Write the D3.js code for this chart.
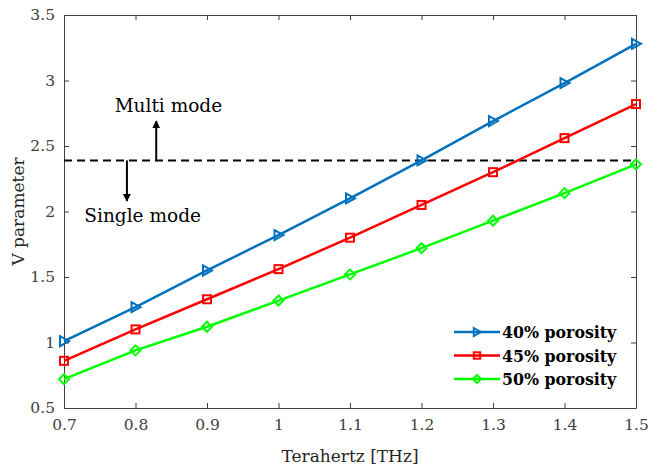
<!DOCTYPE html>
<html lang="en">
<head>
    <meta charset="UTF-8">
    <title>V parameter vs Terahertz</title>
    <script src="https://d3js.org/d3.v7.min.js"></script>
    <style>
        body { margin: 0; background: #fff; }
        text { font-family: "DejaVu Serif", "Liberation Serif", serif; }
        .axis text { font-size: 15.5px; fill: #404040; }
        .axis path, .axis line { stroke: #404040; }
    </style>
</head>
<body>
    <svg width="648" height="468"></svg>
    <script>
        // data
        const freq = [0.7, 0.8, 0.9, 1.0, 1.1, 1.2, 1.3, 1.4, 1.5];
        const por40 = [1.01, 1.27, 1.55, 1.82, 2.10, 2.39, 2.69, 2.98, 3.28];
        const por45 = [0.86, 1.10, 1.33, 1.56, 1.80, 2.05, 2.30, 2.56, 2.82];
        const por50 = [0.72, 0.94, 1.12, 1.32, 1.52, 1.72, 1.93, 2.14, 2.36];
        const seriesNames = ['40% porosity', '45% porosity', '50% porosity'];
        const xTicks = [0.7, 0.8, 0.9, 1, 1.1, 1.2, 1.3, 1.4, 1.5];
        const yTicks = [0.5, 1, 1.5, 2, 2.5, 3, 3.5];
        const cutoff = 2.39;

        const svg = d3.select('svg');
        const m = { left: 64, right: 12, top: 15, bottom: 60 };
        const W = 648, H = 468;

        const x = d3.scaleLinear().domain([0.7, 1.5]).range([m.left, W - m.right]);
        const y = d3.scaleLinear().domain([0.5, 3.5]).range([H - m.bottom, m.top]);

        const series = [
            { name: seriesNames[0], values: por40, color: '#0072BD', marker: 'tri' },
            { name: seriesNames[1], values: por45, color: '#FF0000', marker: 'sq' },
            { name: seriesNames[2], values: por50, color: '#00FF00', marker: 'dia' }
        ];

        // axes (ticks inward, boxed)
        const fmt = d => String(d);
        svg.append('g').attr('class', 'axis')
            .attr('transform', `translate(0,${H - m.bottom})`)
            .call(d3.axisBottom(x).tickValues(xTicks).tickFormat(fmt).tickSizeInner(-5).tickSizeOuter(0).tickPadding(11));
        svg.append('g').attr('class', 'axis')
            .attr('transform', `translate(0,${m.top})`)
            .call(d3.axisTop(x).tickValues(xTicks).tickFormat('').tickSizeInner(-5).tickSizeOuter(0));
        svg.append('g').attr('class', 'axis')
            .attr('transform', `translate(${m.left},0)`)
            .call(d3.axisLeft(y).tickValues(yTicks).tickFormat(fmt).tickSizeInner(-5).tickSizeOuter(0).tickPadding(9));
        svg.append('g').attr('class', 'axis')
            .attr('transform', `translate(${W - m.right},0)`)
            .call(d3.axisRight(y).tickValues(yTicks).tickFormat('').tickSizeInner(-5).tickSizeOuter(0));
        svg.selectAll('.axis .domain').attr('stroke-width', 1);

        // axis titles
        svg.append('text').attr('x', (m.left + W - m.right) / 2).attr('y', 462)
            .attr('text-anchor', 'middle').attr('font-size', 17).attr('fill', '#262626')
            .text('Terahertz [THz]');
        svg.append('text').attr('transform', `translate(24,${(m.top + H - m.bottom) / 2}) rotate(-90)`)
            .attr('text-anchor', 'middle').attr('font-size', 17).attr('fill', '#262626')
            .text('V parameter');

        // cutoff line
        svg.append('line')
            .attr('x1', x(0.7)).attr('x2', x(1.5))
            .attr('y1', y(cutoff)).attr('y2', y(cutoff))
            .attr('stroke', '#000').attr('stroke-width', 2).attr('stroke-dasharray', '8,5');

        // arrows
        svg.append('defs').append('marker')
            .attr('id', 'ah').attr('viewBox', '0 0 10 10').attr('refX', 9).attr('refY', 5)
            .attr('markerWidth', 4).attr('markerHeight', 5).attr('orient', 'auto')
            .append('path').attr('d', 'M0,0 L10,5 L0,10 Z').attr('fill', '#000');
        svg.append('line')
            .attr('x1', x(0.829)).attr('x2', x(0.829))
            .attr('y1', y(cutoff)).attr('y2', y(2.69))
            .attr('stroke', '#000').attr('stroke-width', 2).attr('marker-end', 'url(#ah)');
        svg.append('line')
            .attr('x1', x(0.788)).attr('x2', x(0.788))
            .attr('y1', y(cutoff)).attr('y2', y(2.08))
            .attr('stroke', '#000').attr('stroke-width', 2).attr('marker-end', 'url(#ah)');
        svg.append('text').attr('x', x(0.846)).attr('y', y(2.76))
            .attr('text-anchor', 'middle').attr('font-size', 18.5).attr('fill', '#000')
            .text('Multi mode');
        svg.append('text').attr('x', x(0.81)).attr('y', y(1.92))
            .attr('text-anchor', 'middle').attr('font-size', 18.5).attr('fill', '#000')
            .text('Single mode');

        // markers
        function drawMarker(g, type, color, r) {
            r = r || 5;
            if (type === 'tri') {
                g.append('path').attr('d', `M${-0.8 * r},${-r} L${r},0 L${-0.8 * r},${r} Z`);
            } else if (type === 'sq') {
                g.append('rect').attr('x', -0.8 * r).attr('y', -0.8 * r).attr('width', 1.6 * r).attr('height', 1.6 * r);
            } else {
                g.append('path').attr('d', `M0,${-r} L${r},0 L0,${r} L${-r},0 Z`);
            }
            g.selectAll('*').attr('fill', 'none').attr('stroke', color).attr('stroke-width', 2);
        }

        const line = d3.line().x((d, i) => x(freq[i])).y(d => y(d));
        series.forEach(s => {
            svg.append('path').datum(s.values)
                .attr('d', line).attr('fill', 'none')
                .attr('stroke', s.color).attr('stroke-width', 2.5);
            svg.append('g').selectAll('g').data(s.values).enter().append('g')
                .attr('transform', (d, i) => `translate(${x(freq[i])},${y(d)})`)
                .each(function () { drawMarker(d3.select(this), s.marker, s.color); });
        });

        // legend
        const lg = svg.append('g').attr('transform', 'translate(454,332)');
        series.forEach((s, i) => {
            const row = lg.append('g').attr('transform', `translate(0,${i * 23.5})`);
            row.append('line').attr('x1', 0).attr('x2', 46).attr('y1', 0).attr('y2', 0)
                .attr('stroke', s.color).attr('stroke-width', 2.5);
            drawMarker(row.append('g').attr('transform', 'translate(23,0)'), s.marker, s.color, 4);
            row.append('text').attr('x', 48).attr('y', 6)
                .attr('font-size', 15.8).attr('font-weight', 'bold').attr('fill', '#000')
                .text(s.name);
        });
    </script>
</body>
</html>
